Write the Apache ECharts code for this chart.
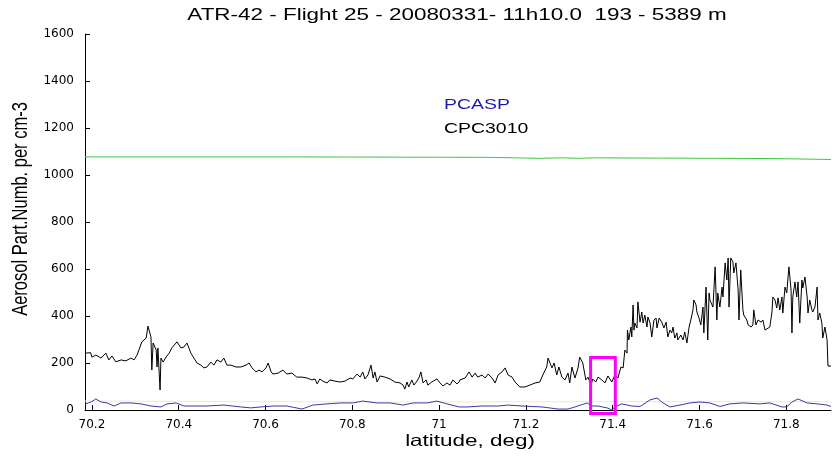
<!DOCTYPE html>
<html>
<head>
<meta charset="utf-8">
<script src="https://cdn.jsdelivr.net/npm/echarts@6.0.0/dist/echarts.min.js"></script>
<style>
  html, body { margin: 0; padding: 0; background: #fff; }
  #chart { width: 840px; height: 457px; }
</style>
</head>
<body>
<div id="chart"></div>
<script>
// Axis ticks
const latTicks = [70.2, 70.4, 70.6, 70.8, 71.0, 71.2, 71.4, 71.6, 71.8];
const countTicks = [0, 200, 400, 600, 800, 1000, 1200, 1400, 1600];

// CPC3010 particle concentration (per cm-3) against latitude (deg)
const cpcLat = [
  70.186, 70.197, 70.200, 70.209, 70.221, 70.232, 70.239, 70.246, 70.255, 70.267,
  70.278, 70.290, 70.297, 70.304, 70.315, 70.325, 70.329, 70.336, 70.338, 70.341,
  70.348, 70.350, 70.352, 70.357, 70.359, 70.364, 70.371, 70.378, 70.384, 70.396,
  70.405, 70.412, 70.419, 70.428, 70.435, 70.442, 70.451, 70.458, 70.465, 70.474,
  70.481, 70.488, 70.497, 70.504, 70.511, 70.520, 70.532, 70.543, 70.555, 70.562,
  70.569, 70.578, 70.585, 70.592, 70.601, 70.606, 70.613, 70.617, 70.629, 70.640,
  70.649, 70.661, 70.672, 70.684, 70.696, 70.707, 70.714, 70.719, 70.725, 70.732,
  70.742, 70.748, 70.760, 70.772, 70.783, 70.795, 70.801, 70.811, 70.818, 70.824,
  70.829, 70.836, 70.843, 70.848, 70.852, 70.857, 70.864, 70.875, 70.887, 70.898,
  70.910, 70.917, 70.921, 70.926, 70.930, 70.937, 70.942, 70.949, 70.954, 70.958,
  70.963, 70.970, 70.974, 70.983, 70.995, 71.002, 71.009, 71.018, 71.025, 71.032,
  71.041, 71.046, 71.048, 71.060, 71.069, 71.076, 71.083, 71.089, 71.099, 71.106,
  71.113, 71.122, 71.129, 71.136, 71.145, 71.152, 71.159, 71.168, 71.175, 71.186,
  71.198, 71.209, 71.221, 71.232, 71.239, 71.248, 71.251, 71.260, 71.265, 71.271,
  71.276, 71.283, 71.290, 71.297, 71.301, 71.306, 71.313, 71.320, 71.324, 71.331,
  71.338, 71.343, 71.350, 71.354, 71.361, 71.366, 71.375, 71.382, 71.389, 71.398,
  71.405, 71.412, 71.419, 71.424, 71.428, 71.433, 71.434, 71.437, 71.442, 71.444,
  71.447, 71.449, 71.451, 71.456, 71.458, 71.463, 71.467, 71.470, 71.474, 71.479,
  71.481, 71.486, 71.490, 71.495, 71.500, 71.502, 71.507, 71.513, 71.518, 71.523,
  71.527, 71.532, 71.536, 71.539, 71.543, 71.548, 71.550, 71.557, 71.562, 71.566,
  71.571, 71.576, 71.580, 71.585, 71.587, 71.592, 71.594, 71.599, 71.603, 71.608,
  71.610, 71.615, 71.619, 71.622, 71.624, 71.631, 71.636, 71.640, 71.642, 71.647,
  71.652, 71.654, 71.659, 71.663, 71.666, 71.668, 71.672, 71.677, 71.679, 71.684,
  71.689, 71.691, 71.695, 71.700, 71.702, 71.709, 71.712, 71.719, 71.723, 71.725,
  71.730, 71.735, 71.742, 71.746, 71.751, 71.755, 71.762, 71.767, 71.769, 71.774,
  71.778, 71.781, 71.785, 71.790, 71.792, 71.797, 71.801, 71.806, 71.811, 71.813,
  71.815, 71.820, 71.824, 71.827, 71.831, 71.836, 71.838, 71.843, 71.848, 71.850,
  71.854, 71.859, 71.861, 71.866, 71.871, 71.873, 71.877, 71.882, 71.884, 71.889,
  71.894, 71.896, 71.903
];
const cpcCount = [
  242, 244, 225, 234, 221, 242, 213, 230, 205, 213,
  209, 221, 213, 234, 290, 306, 357, 311, 170, 285,
  255, 183, 264, 85, 221, 204, 226, 242, 264, 290,
  264, 268, 285, 242, 221, 200, 191, 179, 183, 204,
  191, 213, 204, 221, 191, 191, 183, 183, 191, 200,
  179, 162, 170, 162, 179, 200, 162, 153, 157, 170,
  153, 157, 140, 140, 136, 128, 132, 111, 132, 123,
  115, 128, 123, 119, 123, 136, 132, 153, 140, 162,
  132, 149, 191, 136, 162, 119, 145, 140, 132, 119,
  115, 106, 89, 119, 98, 128, 106, 123, 140, 162,
  115, 128, 106, 119, 132, 115, 102, 115, 106, 128,
  111, 119, 128, 136, 162, 140, 157, 140, 149, 136,
  153, 136, 115, 149, 162, 179, 149, 140, 119, 98,
  98, 106, 115, 119, 149, 183, 221, 179, 200, 149,
  183, 140, 128, 157, 115, 183, 136, 179, 225, 200,
  128, 140, 106, 132, 119, 140, 128, 115, 145, 119,
  149, 136, 183, 179, 255, 242, 340, 298, 353, 311,
  447, 340, 370, 349, 460, 374, 417, 370, 404, 353,
  396, 370, 311, 383, 391, 349, 391, 374, 349, 374,
  311, 340, 328, 353, 306, 328, 298, 319, 298, 332,
  285, 353, 383, 426, 468, 447, 417, 391, 362, 438,
  328, 523, 298, 498, 468, 438, 609, 383, 498, 438,
  523, 481, 626, 553, 647, 438, 647, 630, 583, 626,
  511, 383, 596, 426, 404, 383, 362, 353, 362, 426,
  362, 383, 374, 383, 340, 336, 353, 417, 481, 468,
  434, 477, 426, 481, 413, 523, 498, 609, 511, 328,
  481, 545, 481, 545, 370, 553, 519, 566, 481, 413,
  468, 426, 417, 438, 523, 383, 413, 370, 306, 353,
  298, 187, 187
];

// PCASP particle concentration (per cm-3)
const pcaspLat = [
  70.184, 70.198, 70.209, 70.221, 70.235, 70.251, 70.267, 70.290, 70.313, 70.336,
  70.359, 70.373, 70.394, 70.412, 70.435, 70.465, 70.504, 70.543, 70.566, 70.589,
  70.619, 70.649, 70.684, 70.709, 70.742, 70.772, 70.801, 70.824, 70.857, 70.887,
  70.917, 70.940, 70.972, 70.995, 71.018, 71.046, 71.066, 71.099, 71.136, 71.159,
  71.191, 71.237, 71.274, 71.297, 71.313, 71.341, 71.352, 71.366, 71.387, 71.398,
  71.405, 71.421, 71.444, 71.463, 71.486, 71.502, 71.516, 71.532, 71.555, 71.578,
  71.601, 71.624, 71.647, 71.670, 71.700, 71.739, 71.762, 71.790, 71.801, 71.813,
  71.827, 71.848, 71.871, 71.894, 71.903
];
const pcaspCount = [
  25, 34, 47, 34, 30, 17, 30, 30, 26, 17,
  13, 26, 30, 17, 17, 17, 21, 13, 9, 13,
  17, 17, 4, 21, 26, 30, 30, 38, 30, 30,
  21, 30, 30, 38, 26, 13, 13, 17, 17, 21,
  17, 13, 4, 4, 13, 30, 17, 17, 9, 0,
  13, 26, 17, 15, 43, 51, 30, 13, 21, 30,
  34, 30, 15, 26, 30, 26, 30, 13, 13, 34,
  47, 30, 26, 21, 15
];

// Upper reference trace
const upperLat = [70.184, 70.680, 70.681, 71.126, 71.127, 71.228, 71.229, 71.283, 71.284, 71.320, 71.321, 71.357, 71.358, 71.770, 71.771, 71.903];
const upperCount = [1077, 1077, 1075, 1075, 1071, 1071, 1073, 1073, 1071, 1071, 1073, 1073, 1070, 1070, 1066, 1066];

// Faint low trace
const faintLat = [70.184, 70.500, 71.000, 71.400, 71.903];
const faintCount = [38, 36, 34, 36, 35];

// Highlighted interval
const boxLat = [71.349, 71.406];
const boxCount = [-15, 223];

const pairs = (xs, ys) => xs.map((x, i) => [x, ys[i]]);

const STRETCH = 1.36;
const textFont = '"Liberation Sans", Arial, Helvetica, sans-serif';
const tickFont = '"DejaVu Sans", sans-serif';

const chart = echarts.init(document.getElementById('chart'), null, { renderer: 'canvas' });

const option = {
  animation: false,
  backgroundColor: '#ffffff',
  grid: { left: 85, right: 9, top: 34, bottom: 47 },
  xAxis: {
    type: 'value',
    min: 70.184,
    max: 71.903,
    axisLine: { show: true, lineStyle: { color: '#000', width: 1 } },
    axisTick: { show: true, inside: true, length: 5, customValues: latTicks, lineStyle: { color: '#000' } },
    axisLabel: {
      customValues: latTicks,
      formatter: v => String(+(+v).toFixed(1)),
      color: '#000', fontFamily: tickFont, fontSize: 12, margin: 9
    },
    splitLine: { show: false }
  },
  yAxis: {
    type: 'value',
    min: countTicks[0],
    max: countTicks[countTicks.length - 1],
    interval: 200,
    axisLine: { show: true, lineStyle: { color: '#000', width: 1 } },
    axisTick: { show: true, inside: true, length: 5, lineStyle: { color: '#000' } },
    axisLabel: {
      formatter: v => String(Math.round(v)),
      color: '#000', fontFamily: tickFont, fontSize: 12, margin: 11
    },
    splitLine: { show: false }
  },
  series: [
    {
      name: 'upper', type: 'line', data: pairs(upperLat, upperCount),
      showSymbol: false, lineStyle: { color: '#3fc83f', width: 1 }, z: 2
    },
    {
      name: 'faint', type: 'line', data: pairs(faintLat, faintCount),
      showSymbol: false, lineStyle: { color: '#f2ebc4', width: 1 }, z: 2
    },
    {
      name: 'PCASP', type: 'line', data: pairs(pcaspLat, pcaspCount),
      showSymbol: false, lineStyle: { color: '#3a3aa8', width: 1 }, z: 3
    },
    {
      name: 'CPC3010', type: 'line', data: pairs(cpcLat, cpcCount),
      showSymbol: false, lineStyle: { color: '#000000', width: 1 }, z: 4
    },
    {
      name: 'interval', type: 'custom', clip: false, silent: true, z: 6,
      data: [[boxLat[0], boxLat[1], boxCount[0], boxCount[1]]],
      encode: { x: [0, 1], y: [2, 3] },
      renderItem: (params, api) => {
        const p0 = api.coord([api.value(0), api.value(3)]);
        const p1 = api.coord([api.value(1), api.value(2)]);
        return {
          type: 'rect',
          shape: { x: p0[0], y: p0[1], width: p1[0] - p0[0], height: p1[1] - p0[1] },
          style: { fill: 'none', stroke: '#ff00ff', lineWidth: 3 }
        };
      }
    }
  ],
  graphic: [
    {
      type: 'text', x: 457, y: 15, scaleX: STRETCH,
      style: {
        text: 'ATR-42 - Flight 25 - 20080331- 11h10.0  193 - 5389 m',
        font: '16.5px ' + textFont, fill: '#000',
        textAlign: 'center', textVerticalAlign: 'middle'
      }
    },
    {
      type: 'text', x: 470, y: 441, scaleX: STRETCH,
      style: {
        text: 'latitude, deg)',
        font: '16.5px ' + textFont, fill: '#000',
        textAlign: 'center', textVerticalAlign: 'middle'
      }
    },
    {
      type: 'text', x: 21, y: 209, rotation: Math.PI / 2, scaleY: STRETCH,
      style: {
        text: 'Aerosol Part.Numb. per cm-3',
        font: '16.5px ' + textFont, fill: '#000',
        textAlign: 'center', textVerticalAlign: 'middle'
      }
    },
    {
      type: 'text', x: 444, y: 105, scaleX: STRETCH,
      style: {
        text: 'PCASP',
        font: '14.3px ' + textFont, fill: '#1c1caa',
        textAlign: 'left', textVerticalAlign: 'middle'
      }
    },
    {
      type: 'text', x: 444, y: 129, scaleX: STRETCH,
      style: {
        text: 'CPC3010',
        font: '14.3px ' + textFont, fill: '#000',
        textAlign: 'left', textVerticalAlign: 'middle'
      }
    }
  ]
};

chart.setOption(option);
</script>
</body>
</html>
